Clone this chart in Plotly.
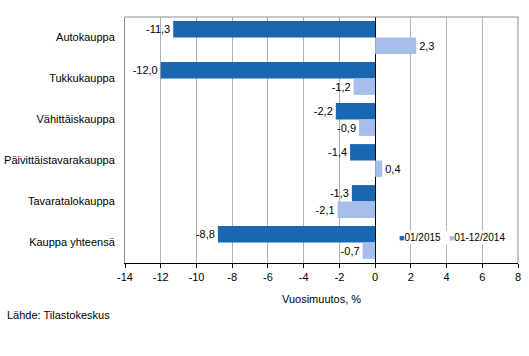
import plotly.graph_objects as go

categories = ["Autokauppa", "Tukkukauppa", "Vähittäiskauppa", "Päivittäistavarakauppa",
              "Tavaratalokauppa", "Kauppa yhteensä"]
series_names = ["01/2015", "01-12/2014"]
values_2015 = [-11.3, -12.0, -2.2, -1.4, -1.3, -8.8]
values_2014 = [2.3, -1.2, -0.9, 0.4, -2.1, -0.7]
tick_vals = list(range(-14, 9, 2))
tick_text = [str(t) for t in tick_vals]

colors = ["#1a67b1", "#a7bdea"]

def fmt(v):
    return f"{v:.1f}".replace(".", ",")

fig = go.Figure()
for name, vals, col in zip(series_names, [values_2015, values_2014], colors):
    fig.add_trace(go.Bar(
        y=categories, x=vals, name=name, orientation="h",
        marker=dict(color=col, line=dict(width=0)),
        text=[fmt(v) for v in vals], textposition="outside",
        textfont=dict(color="#000000", size=11), cliponaxis=False,
        showlegend=False,
    ))

legend_text = "   ".join(
    f"<span style='font-size:9px;color:{c}'>■</span>{n}"
    for n, c in zip(series_names, colors)
)

fig.update_layout(
    width=529, height=356,
    margin=dict(l=125, r=11, t=17, b=93, autoexpand=False),
    paper_bgcolor="white", plot_bgcolor="white",
    font=dict(family="Liberation Sans, Arial, sans-serif", size=11, color="#000000"),
    barmode="group", bargap=0.2, bargroupgap=0,
    showlegend=False,
    xaxis=dict(range=[-14, 8], tickvals=tick_vals, ticktext=tick_text,
               showgrid=True, gridcolor="#b0b0b0", gridwidth=1,
               zeroline=True, zerolinecolor="#000000", zerolinewidth=1,
               showline=True, linecolor="#000000", linewidth=1,
               ticks="outside", ticklen=4, tickcolor="#000000",
               mirror=False, fixedrange=True),
    yaxis=dict(autorange="reversed", showgrid=False, showline=True,
               linecolor="#8c8c8c", linewidth=1, ticks="",
               ticklabelstandoff=7, fixedrange=True),
    annotations=[
        dict(text=legend_text, xref="paper", yref="paper", x=(397-125)/393,
             y=(263-237)/246, xanchor="left", yanchor="middle", showarrow=False,
             font=dict(size=10), bgcolor="white", borderpad=1),
        dict(text="Vuosimuutos, %", xref="paper", yref="paper", x=0.5, y=-36/246,
             xanchor="center", yanchor="middle", showarrow=False, font=dict(size=11)),
        dict(text="Lähde: Tilastokeskus", xref="paper", yref="paper",
             x=-120/393, y=-52/246, xanchor="left", yanchor="middle",
             showarrow=False, font=dict(size=11)),
    ],
    shapes=[
        dict(type="line", xref="paper", yref="paper", x0=0, x1=1, y0=1, y1=1,
             line=dict(color="#8c8c8c", width=1)),
        dict(type="line", xref="paper", yref="paper", x0=1, x1=1, y0=0, y1=1,
             line=dict(color="#8c8c8c", width=1)),
    ],
)

fig.write_html("out.html", config={"displayModeBar": False},
               post_script="document.body.style.margin='0';")
